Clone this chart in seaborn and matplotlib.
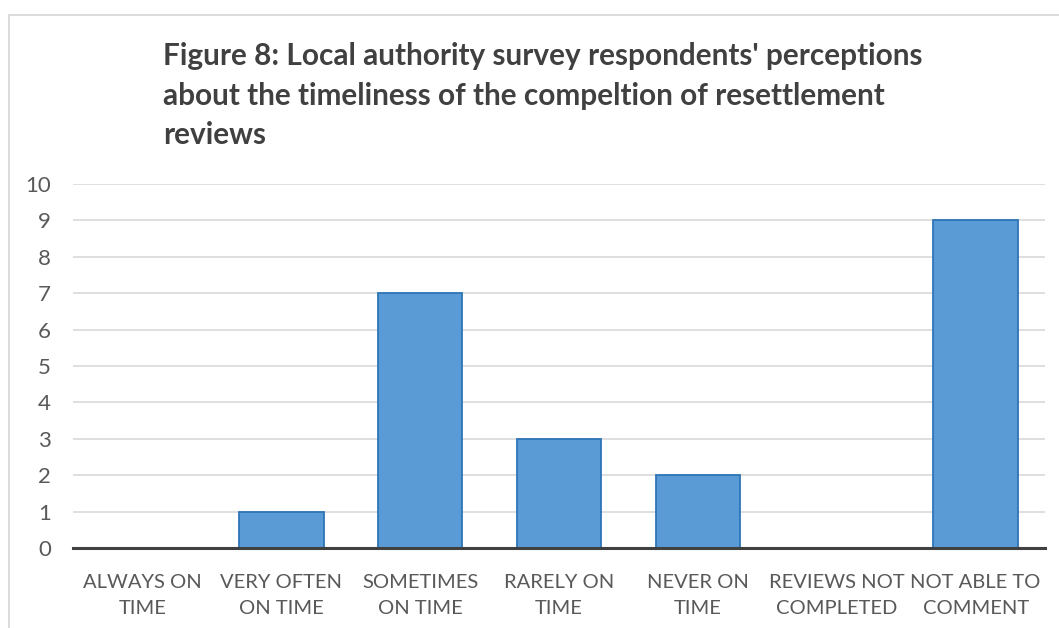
import matplotlib
matplotlib.use("Agg")
import matplotlib.pyplot as plt
import seaborn as sns
import pandas as pd
from matplotlib.patches import Rectangle

# Survey answers and counts
categories = ["ALWAYS ON\nTIME", "VERY OFTEN\nON TIME", "SOMETIMES\nON TIME", "RARELY ON\nTIME",
              "NEVER ON\nTIME", "REVIEWS NOT\nCOMPLETED", "NOT ABLE TO\nCOMMENT"]
counts = [0, 1, 7, 3, 2, 0, 9]
y_ticks = list(range(0, 11))
title_lines = ["Figure 8: Local authority survey respondents' perceptions",
               "about the timeliness of the compeltion of resettlement",
               "reviews"]

sns.set_theme(style="white")
plt.rcParams["font.family"] = ["Lato", "DejaVu Sans"]

W, H = 1059, 628
fig = plt.figure(figsize=(W / 100, H / 100), dpi=100)
fig.patch.set_facecolor("white")

# Chart-area frame (runs off the right and bottom edges)
fig.patches.append(Rectangle((9 / W, -0.2), 2.0, 1 - 15 / H + 0.2, transform=fig.transFigure,
                             fill=False, edgecolor="#D9D9D9", linewidth=1.3, zorder=0))

ax = fig.add_axes([73 / W, 1 - 548 / H, (1045 - 73) / W, (548 - 184) / H])

df = pd.DataFrame({"category": categories, "count": counts})
sns.barplot(data=df, x="category", y="count", ax=ax, color="#5B9BD5", saturation=1,
            width=0.61, edgecolor="#2E75B6", linewidth=1.3, zorder=3)

ax.set_ylim(0, 10)
ax.set_xlim(-0.5, len(categories) - 0.5)
ax.set_yticks(y_ticks)
ax.yaxis.grid(True, color="#D9D9D9", linewidth=1.2, zorder=0)
ax.set_axisbelow(True)
for side in ["top", "right", "left"]:
    ax.spines[side].set_visible(False)
ax.spines["bottom"].set_color("#404040")
ax.spines["bottom"].set_linewidth(2.2)
ax.spines["bottom"].set_zorder(5)
ax.set_xlabel("")
ax.set_ylabel("")
ax.tick_params(axis="both", length=0, colors="#595959")
ax.tick_params(axis="x", labelsize=14.5, pad=19)
ax.tick_params(axis="y", labelsize=16, pad=15.8)
for lab in ax.get_xticklabels():
    lab.set_linespacing(1.6)

# Title, left aligned, three lines
for i, line in enumerate(title_lines):
    fig.text(163 / W, 1 - (65 + 39.5 * i) / H, line, ha="left", va="baseline",
             fontsize=21.4, fontweight="bold", color="#404040")

fig.savefig("out.png", dpi=100)
